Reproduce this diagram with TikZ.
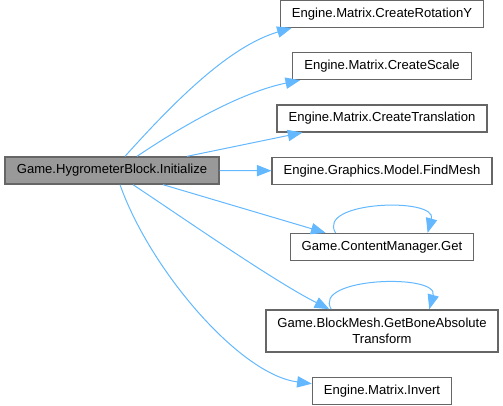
\documentclass[tikz,border=0pt]{standalone}
\usepackage{fontspec}
\setmainfont{Liberation Sans}
\usepackage{tikz}
\usetikzlibrary{arrows.meta,positioning,calc}
\definecolor{edgeblue}{HTML}{63B8FF}
\definecolor{boxgray}{HTML}{999999}
\definecolor{bordergray}{HTML}{666666}

\begin{document}
\begin{tikzpicture}[x=0.75pt, y=0.75pt, node distance=18pt,
        block/.style={rectangle, draw=bordergray, line width=1pt, fill=white, minimum height=20.25pt, inner xsep=8.6pt, inner ysep=4pt, font=\fontsize{9.8}{12}\selectfont},
        mainblock/.style={block, fill=boxgray},
        call/.style={-{Triangle[length=11pt, width=8.5pt]}, draw=edgeblue, line width=0.75pt}]

        \useasboundingbox (0,0) rectangle (503,405);

        \node[mainblock, minimum width=160.5pt] (init) at (112,234.5) {Game.HygrometerBlock.Initialize};
        \node[block] (findmesh) at (382,234.3) {Engine.Graphics.Model.FindMesh};
        \node[block, above=of findmesh] (translation) {Engine.Matrix.CreateTranslation};
        \node[block, above=of translation] (scale) {Engine.Matrix.CreateScale};
        \node[block, above=of scale] (rotation) {Engine.Matrix.CreateRotationY};
        \node[block, below=36pt of findmesh] (get) {Game.ContentManager.Get};
        \node[block, below=36pt of get, align=center, minimum height=31.5pt] (bonetf) {Game.BlockMesh.GetBoneAbsolute\\Transform};
        \node[block, below=of bonetf] (invert) {Engine.Matrix.Invert};

        \draw[call] ($(init.north)+(13,0)$) .. controls +(53,59) and +(-61,-18) .. ($(rotation.south west)+(12,0)$);
        \draw[call] ($(init.north)+(25,0)$) .. controls +(55,37) and +(-54,-11) .. ($(scale.south west)+(8,0)$);
        \draw[call] ($(init.north)+(75,0)$) -- ($(translation.south west)+(26,0)$);
        \draw[call] (init.east) -- (findmesh.west);
        \draw[call] ($(init.south)+(51,0)$) -- ($(get.north west)+(36,0)$);
        \draw[call] ($(init.south)+(21,0)$) .. controls +(60,-40) and +(-55,28) .. ($(bonetf.north west)+(64,0)$);
        \draw[call] ($(init.south)+(8,0)$) .. controls +(30,-85) and +(-72,9) .. ($(invert.west)+(0,7)$);

        % recursive calls
        \draw[call] ($(get.north west)+(46,0)$) .. controls +(-20,32) and +(10,36) .. ($(get.north west)+(138,0)$);
        \draw[call] ($(bonetf.north west)+(66,0)$) .. controls +(-20,32) and +(10,36) .. ($(bonetf.north west)+(164,0)$);

    \end{tikzpicture}
\end{document}
